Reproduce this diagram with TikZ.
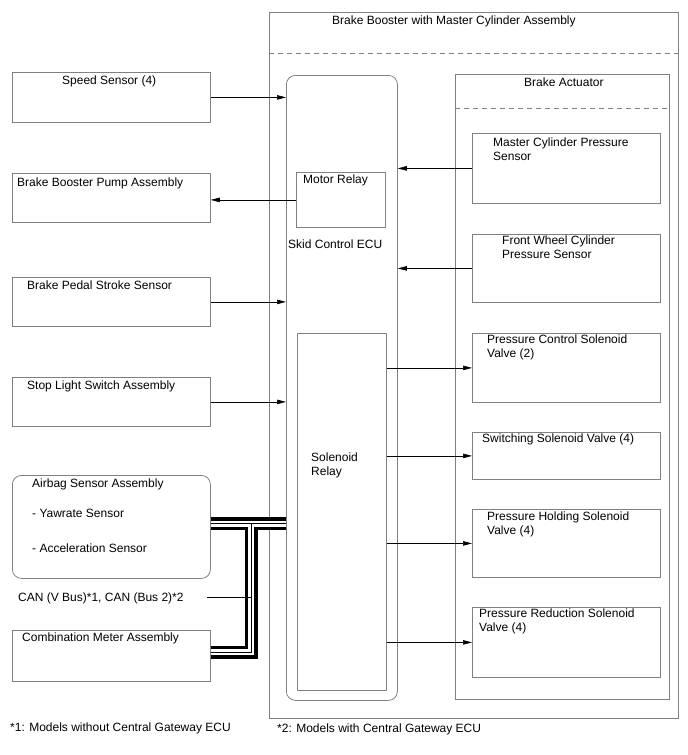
\documentclass[tikz,border=0pt]{standalone}
\usepackage{fontspec}
\setmainfont{Liberation Sans}
\usetikzlibrary{arrows.meta}
\definecolor{boxgray}{RGB}{128,128,128}

\begin{document}
\begin{tikzpicture}[x=1pt, y=-1pt,
  font=\fontsize{12}{14}\selectfont,
  >={Triangle[length=9pt, width=4.5pt]},
  box/.style={draw=boxgray, line width=0.8pt, anchor=north west, inner sep=0pt},
  rbox/.style={box, rounded corners=9pt},
  txt/.style={anchor=north west, inner sep=0pt, align=left},
  arr/.style={->, line width=0.6pt},
  sep/.style={draw=boxgray, line width=0.8pt, dash pattern=on 5pt off 4pt},
  canedge/.style={line width=13pt, draw=black},
  canfill/.style={line width=6pt, draw=white},
  canwire/.style={line width=0.8pt, draw=black}]
  \useasboundingbox (0,0) rectangle (688,755);

  % outer assemblies
  \node[box, minimum width=409, minimum height=706] (booster) at (269,12) {};
  \node[txt] (boosterlbl) at (332,16) {Brake Booster with Master Cylinder Assembly};
  \draw[sep] (booster.west |- 0,53) -- (booster.east |- 0,53);
  \node[rbox, minimum width=111, minimum height=625] (ecu) at (286,75) {};
  \node[txt] (eculbl) at (288,240) {Skid Control ECU};
  \node[box, minimum width=214, minimum height=625] (act) at (455,74) {};
  \node[txt] (actlbl) at (524,78) {Brake Actuator};
  \draw[sep] (act.west |- 0,108) -- (act.east |- 0,108);

  % relays inside the ECU
  \node[box, minimum width=89, minimum height=55] (motor) at (296,172) {};
  \node[txt] (motorlbl) at (303,175) {Motor Relay};
  \node[box, minimum width=89, minimum height=357] (solrelay) at (297,333) {};
  \node[txt] (solrelaylbl) at (311,453) {Solenoid\\Relay};

  % left side
  \node[box, minimum width=198, minimum height=50] (speed) at (12,72) {};
  \node[txt] (speedlbl) at (62,76) {Speed Sensor (4)};
  \node[box, minimum width=198, minimum height=49] (pump) at (12,173) {};
  \node[txt] (pumplbl) at (17,178) {Brake Booster Pump Assembly};
  \node[box, minimum width=198, minimum height=49] (pedal) at (12,277) {};
  \node[txt] (pedallbl) at (27,281) {Brake Pedal Stroke Sensor};
  \node[box, minimum width=198, minimum height=49] (stop) at (12,377) {};
  \node[txt] (stoplbl) at (27,381) {Stop Light Switch Assembly};
  \node[rbox, minimum width=198, minimum height=103] (airbag) at (12,475) {};
  \node[txt] (airbaglbl) at (32,479) {Airbag Sensor Assembly};
  \node[txt] (yawlbl) at (32,509) {- Yawrate Sensor};
  \node[txt] (acclbl) at (32,544) {- Acceleration Sensor};
  \node[txt] (canlbl) at (18,593) {CAN (V Bus)*1, CAN (Bus 2)*2};
  \node[box, minimum width=198, minimum height=51] (meter) at (12,630) {};
  \node[txt] (meterlbl) at (22,633) {Combination Meter Assembly};

  % right side
  \node[box, minimum width=188, minimum height=70] (mcp) at (472,133) {};
  \node[txt] (mcplbl) at (493,138) {Master Cylinder Pressure\\Sensor};
  \node[box, minimum width=188, minimum height=68] (fwc) at (472,234) {};
  \node[txt] (fwclbl) at (502,236) {Front Wheel Cylinder\\Pressure Sensor};
  \node[box, minimum width=188, minimum height=69] (pcv) at (472,333) {};
  \node[txt] (pcvlbl) at (487,335) {Pressure Control Solenoid\\Valve (2)};
  \node[box, minimum width=188, minimum height=47] (swv) at (472,432) {};
  \node[txt] (swvlbl) at (482,434) {Switching Solenoid Valve (4)};
  \node[box, minimum width=188, minimum height=68] (phv) at (472,509) {};
  \node[txt] (phvlbl) at (487,512) {Pressure Holding Solenoid\\Valve (4)};
  \node[box, minimum width=188, minimum height=70] (prv) at (472,607) {};
  \node[txt] (prvlbl) at (479,609) {Pressure Reduction Solenoid\\Valve (4)};

  % footnotes
  \node[txt] (note1) at (10,723) {*1: Models without Central Gateway ECU};
  \node[txt] (note2) at (277,724) {*2: Models with Central Gateway ECU};

  % signals
  \draw[arr] (speed) -- (ecu.west |- speed);
  \draw[arr] (motor.west) -- (pump.east |- motor.west);
  \draw[arr] (pedal) -- (ecu.west |- pedal);
  \draw[arr] (stop) -- (ecu.west |- stop);
  \draw[arr] (mcp) -- (ecu.east |- mcp);
  \draw[arr] (fwc) -- (ecu.east |- fwc);
  \draw[arr] (solrelay.east |- pcv) -- (pcv);
  \draw[arr] (solrelay.east |- swv) -- (swv);
  \draw[arr] (solrelay.east |- phv) -- (phv);
  \draw[arr] (solrelay.east |- prv) -- (prv);

  % CAN bus
  \coordinate (canT) at (251,523.5);
  \coordinate (canB) at (251,652);
  \draw[canedge] (airbag.east |- canT) -- (ecu.west |- canT);
  \draw[canedge] (canT) -- (canB) -- (meter.east |- canB);
  \draw[canfill] (airbag.east |- canT) -- (ecu.west |- canT);
  \draw[canfill] (canT) -- (canB) -- (meter.east |- canB);
  \draw[canwire] (airbag.east |- canT) -- (ecu.west |- canT);
  \draw[canwire] (canT) -- (canB) -- (meter.east |- canB);
  \coordinate (canlblend) at (207,597);
  \draw[line width=0.8pt] (canlblend) -- (canT |- canlblend);
\end{tikzpicture}
\end{document}
